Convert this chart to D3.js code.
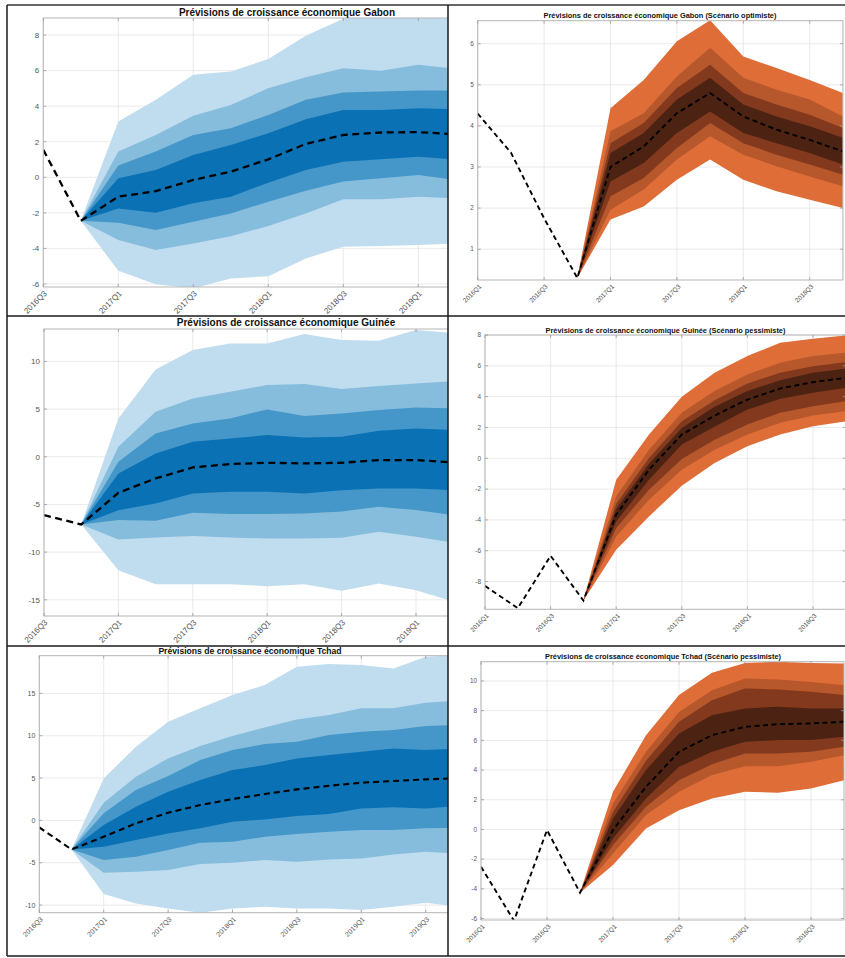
<!DOCTYPE html>
<html>
<head>
<meta charset="utf-8">
<script src="https://cdn.jsdelivr.net/npm/d3@7"></script>
<style>
  body { margin: 0; background: #fff; }
  svg { display: block; }
  text { font-family: "Liberation Sans", Arial, Helvetica, sans-serif; }
</style>
</head>
<body>
<svg id="fig" width="845" height="958"></svg>
<script>
// ---------- quarter labels ----------
const quartersFrom2016Q3 = ["2016Q3","2016Q4","2017Q1","2017Q2","2017Q3","2017Q4","2018Q1","2018Q2","2018Q3","2018Q4","2019Q1","2019Q2","2019Q3","2019Q4"];
const quartersFrom2016Q1 = ["2016Q1","2016Q2","2016Q3","2016Q4","2017Q1","2017Q2","2017Q3","2017Q4","2018Q1","2018Q2","2018Q3","2018Q4"];

// ---------- y tick values ----------
const gabonYTicks = [-6, -4, -2, 0, 2, 4, 6, 8];
const gabonOptYTicks = [1, 2, 3, 4, 5, 6];
const guineeYTicks = [-15, -10, -5, 0, 5, 10];
const guineePessYTicks = [-8, -6, -4, -2, 0, 2, 4, 6, 8];
const tchadYTicks = [-10, -5, 0, 5, 10, 15];
const tchadPessYTicks = [-6, -4, -2, 0, 2, 4, 6, 8, 10];

// ---------- Gabon (central scenario) ----------
const gabonHist     = [1.55, -2.45];
const gabonMedian   = [-2.45, -1.09, -0.78, -0.15, 0.32, 1.01, 1.88, 2.38, 2.52, 2.54, 2.42];
const gabonOuterHi  = [-2.45, 3.14, 4.36, 5.77, 5.95, 6.65, 7.96, 8.92, 9.2, 9.3, 9.2];
const gabonMidHi    = [-2.45, 1.45, 2.38, 3.46, 4.07, 5.01, 5.63, 6.14, 5.99, 6.33, 6.1];
const gabonInnerHi  = [-2.45, 0.66, 1.45, 2.38, 2.76, 3.51, 4.36, 4.77, 4.83, 4.88, 4.88];
const gabonCoreHi   = [-2.45, -0.06, 0.41, 1.26, 1.82, 2.48, 3.27, 3.79, 3.79, 3.89, 3.83];
const gabonCoreLo   = [-2.45, -1.75, -1.99, -1.46, -1.09, -0.3, 0.41, 0.88, 1.01, 1.16, 1.0];
const gabonInnerLo  = [-2.45, -2.55, -2.97, -2.5, -2.03, -1.37, -0.75, -0.24, -0.06, 0.13, -0.15];
const gabonMidLo    = [-2.45, -3.53, -4.09, -3.72, -3.31, -2.74, -2.03, -1.24, -1.24, -1.09, -1.18];
const gabonOuterLo  = [-2.45, -5.26, -6.01, -6.25, -5.69, -5.56, -4.56, -3.91, -3.87, -3.81, -3.72];

// ---------- Gabon (optimistic scenario) ----------
const gabonOptHist    = [4.3, 3.35, 1.75, 0.3];
const gabonOptMedian  = [0.3, 3.0, 3.5, 4.31, 4.8, 4.23, 3.91, 3.66, 3.38];
const gabonOptOuterHi = [0.3, 4.43, 5.12, 6.06, 6.57, 5.69, 5.41, 5.12, 4.8];
const gabonOptMidHi   = [0.3, 3.87, 4.31, 5.2, 5.9, 5.17, 4.88, 4.64, 4.23];
const gabonOptInnerHi = [0.3, 3.58, 4.07, 4.92, 5.49, 4.8, 4.52, 4.27, 3.95];
const gabonOptCoreHi  = [0.3, 3.34, 3.83, 4.64, 5.17, 4.52, 4.23, 3.99, 3.71];
const gabonOptCoreLo  = [0.3, 2.65, 3.1, 3.83, 4.35, 3.83, 3.58, 3.34, 3.06];
const gabonOptInnerLo = [0.3, 2.29, 2.73, 3.46, 4.07, 3.58, 3.3, 3.06, 2.81];
const gabonOptMidLo   = [0.3, 1.96, 2.45, 3.18, 3.75, 3.3, 3.02, 2.77, 2.53];
const gabonOptOuterLo = [0.3, 1.72, 2.04, 2.69, 3.18, 2.69, 2.41, 2.2, 2.0];

// ---------- Guinée (central scenario) ----------
const guineeHist     = [-6.12, -7.1];
const guineeMedian   = [-7.1, -3.78, -2.27, -1.12, -0.77, -0.63, -0.7, -0.63, -0.35, -0.35, -0.6];
const guineeOuterHi  = [-7.1, 4.02, 9.16, 11.19, 11.89, 11.89, 12.87, 12.24, 12.17, 13.29, 13.0];
const guineeMidHi    = [-7.1, 1.05, 4.72, 6.12, 6.82, 7.52, 7.62, 7.1, 7.41, 7.69, 7.94];
const guineeInnerHi  = [-7.1, -0.52, 2.45, 3.5, 4.02, 4.97, 4.27, 4.55, 4.9, 5.17, 5.07];
const guineeCoreHi   = [-7.1, -1.75, 0.35, 1.57, 1.92, 2.27, 2.03, 2.1, 2.73, 2.97, 2.8];
const guineeCoreLo   = [-7.1, -5.6, -4.9, -3.85, -3.67, -3.67, -3.85, -3.5, -3.32, -3.32, -3.5];
const guineeInnerLo  = [-7.1, -6.64, -6.71, -5.87, -6.01, -6.01, -5.94, -5.73, -5.24, -5.59, -6.12];
const guineeMidLo    = [-7.1, -8.67, -8.46, -8.32, -8.46, -8.57, -8.57, -8.5, -7.87, -8.39, -8.99];
const guineeOuterLo  = [-7.1, -11.89, -13.36, -13.36, -13.36, -13.57, -13.36, -14.06, -13.29, -13.99, -15.2];

// ---------- Guinée (pessimistic scenario) ----------
const guineePessHist    = [-8.28, -9.73, -6.33, -9.23];
const guineePessMedian  = [-9.23, -3.66, -0.74, 1.54, 2.77, 3.81, 4.53, 4.94, 5.22];
const guineePessOuterHi = [-9.23, -1.39, 1.54, 3.99, 5.55, 6.63, 7.5, 7.76, 7.97];
const guineePessMidHi   = [-9.23, -2.47, 0.56, 2.95, 4.36, 5.44, 6.2, 6.63, 6.85];
const guineePessInnerHi = [-9.23, -2.95, 0.02, 2.41, 3.77, 4.85, 5.55, 5.98, 6.24];
const guineePessCoreHi  = [-9.23, -3.29, -0.35, 1.97, 3.34, 4.36, 5.07, 5.55, 5.81];
const guineePessCoreLo  = [-9.23, -4.1, -1.39, 0.89, 2.04, 3.16, 3.86, 4.25, 4.57];
const guineePessInnerLo = [-9.23, -4.53, -2.04, -0.04, 1.21, 2.19, 2.95, 3.38, 3.71];
const guineePessMidLo   = [-9.23, -5.07, -2.69, -0.74, 0.56, 1.54, 2.3, 2.77, 3.06];
const guineePessOuterLo = [-9.23, -5.94, -3.77, -1.78, -0.3, 0.78, 1.54, 2.08, 2.4];

// ---------- Tchad (central scenario) ----------
const tchadHist     = [-0.83, -3.43];
const tchadMedian   = [-3.43, -1.93, -0.35, 0.91, 1.81, 2.52, 3.11, 3.66, 4.09, 4.45, 4.65, 4.84, 5.0];
const tchadOuterHi  = [-3.43, 4.96, 8.7, 11.65, 13.23, 14.8, 15.98, 18.15, 18.46, 18.35, 17.95, 19.33, 19.5];
const tchadMidHi    = [-3.43, 2.09, 5.16, 7.32, 8.78, 9.96, 10.98, 11.93, 12.44, 13.23, 13.23, 13.9, 14.13];
const tchadInnerHi  = [-3.43, 0.83, 3.58, 5.24, 7.13, 8.31, 9.02, 9.29, 10.08, 10.47, 10.67, 11.14, 11.26];
const tchadCoreHi   = [-3.43, -0.55, 1.61, 3.39, 4.76, 5.94, 6.54, 7.32, 7.72, 8.11, 8.5, 8.31, 8.5];
const tchadCoreLo   = [-3.43, -3.11, -2.32, -1.54, -0.94, -0.16, 0.12, 0.51, 0.75, 1.42, 1.54, 1.42, 1.69];
const tchadInnerLo  = [-3.43, -4.69, -4.29, -3.5, -2.64, -2.52, -1.93, -1.61, -1.34, -1.14, -1.14, -0.94, -0.87];
const tchadMidLo    = [-3.43, -6.18, -6.06, -5.87, -5.16, -5.0, -4.69, -4.88, -4.61, -4.49, -4.02, -3.7, -3.9];
const tchadOuterLo  = [-3.43, -8.7, -9.8, -10.39, -10.9, -10.39, -10.2, -10.39, -10.39, -10.59, -10.2, -9.72, -10.2];

// ---------- Tchad (pessimistic scenario) ----------
const tchadPessHist    = [-2.51, -6.15, -0.04, -4.26];
const tchadPessMedian  = [-4.26, -0.04, 2.87, 5.23, 6.35, 6.91, 7.09, 7.14, 7.25];
const tchadPessOuterHi = [-4.26, 2.54, 6.35, 9.05, 10.55, 11.22, 11.3, 11.22, 11.18];
const tchadPessMidHi   = [-4.26, 1.75, 5.23, 7.92, 9.38, 10.17, 10.1, 9.94, 9.72];
const tchadPessInnerHi = [-4.26, 1.19, 4.62, 7.25, 8.71, 9.49, 9.43, 9.27, 9.05];
const tchadPessCoreHi  = [-4.26, 0.74, 4.0, 6.46, 7.7, 8.15, 8.26, 8.15, 8.15];
const tchadPessCoreLo  = [-4.26, -0.61, 2.09, 4.22, 5.23, 5.9, 6.02, 6.02, 6.24];
const tchadPessInnerLo = [-4.26, -1.05, 1.53, 3.32, 4.4, 5.12, 5.12, 5.23, 5.57];
const tchadPessMidLo   = [-4.26, -1.62, 0.97, 2.54, 3.66, 4.26, 4.26, 4.56, 5.0];
const tchadPessOuterLo = [-4.26, -2.4, 0.07, 1.3, 2.09, 2.54, 2.47, 2.76, 3.32];

// ---------- colour ramps (outer band first) ----------
const blueShades   = ["#c0dcef", "#86bddd", "#4597c9", "#0a72b4"];
const orangeShades = ["#df6d38", "#b7572c", "#83391d", "#4c2213"];

// ---------- panel layout ----------
const panels = [
  { cell: [7, 5, 448, 316], left: 43.3, step: 37.5, top: 18, bottom: 287, yDomain: [-6.17, 8.96],
    quarters: quartersFrom2016Q3.slice(0, 12), yTicks: gabonYTicks,
    hist: gabonHist, median: gabonMedian,
    bands: [[gabonOuterLo, gabonOuterHi], [gabonMidLo, gabonMidHi], [gabonInnerLo, gabonInnerHi], [gabonCoreLo, gabonCoreHi]],
    shades: blueShades, title: "Prévisions de croissance économique Gabon",
    titleX: 287, titleY: 16, titleSize: 10, tickSize: 8, lineWidth: 2.3, dash: "7,4.5" },
  { cell: [448, 5, 845, 316], left: 477.7, step: 33.2, top: 20.7, bottom: 280, yDomain: [0.25, 6.56],
    quarters: quartersFrom2016Q1, yTicks: gabonOptYTicks,
    hist: gabonOptHist, median: gabonOptMedian,
    bands: [[gabonOptOuterLo, gabonOptOuterHi], [gabonOptMidLo, gabonOptMidHi], [gabonOptInnerLo, gabonOptInnerHi], [gabonOptCoreLo, gabonOptCoreHi]],
    shades: orangeShades, title: "Prévisions de croissance économique Gabon (Scénario optimiste)",
    titleX: 660, titleY: 17.5, titleSize: 7.4, tickSize: 6.4, lineWidth: 1.9, dash: "5,3.5" },
  { cell: [7, 316, 448, 646], left: 44, step: 37.2, top: 329, bottom: 616, yDomain: [-16.7, 13.4],
    quarters: quartersFrom2016Q3.slice(0, 12), yTicks: guineeYTicks,
    hist: guineeHist, median: guineeMedian,
    bands: [[guineeOuterLo, guineeOuterHi], [guineeMidLo, guineeMidHi], [guineeInnerLo, guineeInnerHi], [guineeCoreLo, guineeCoreHi]],
    shades: blueShades, title: "Prévisions de croissance économique Guinée",
    titleX: 286, titleY: 326, titleSize: 10, tickSize: 8, lineWidth: 2.3, dash: "7,4.5" },
  { cell: [448, 316, 845, 646], left: 485, step: 32.8, top: 335, bottom: 609.3, yDomain: [-9.8, 8.0],
    quarters: quartersFrom2016Q1, yTicks: guineePessYTicks,
    hist: guineePessHist, median: guineePessMedian,
    bands: [[guineePessOuterLo, guineePessOuterHi], [guineePessMidLo, guineePessMidHi], [guineePessInnerLo, guineePessInnerHi], [guineePessCoreLo, guineePessCoreHi]],
    shades: orangeShades, title: "Prévisions de croissance économique Guinée (Scénario pessimiste)",
    titleX: 665.5, titleY: 333, titleSize: 7.4, tickSize: 6.4, lineWidth: 1.9, dash: "5,3.5" },
  { cell: [7, 646, 448, 956], left: 39.3, step: 32.2, top: 655.7, bottom: 912.7, yDomain: [-10.9, 19.45],
    quarters: quartersFrom2016Q3, yTicks: tchadYTicks,
    hist: tchadHist, median: tchadMedian,
    bands: [[tchadOuterLo, tchadOuterHi], [tchadMidLo, tchadMidHi], [tchadInnerLo, tchadInnerHi], [tchadCoreLo, tchadCoreHi]],
    shades: blueShades, title: "Prévisions de croissance économique Tchad",
    titleX: 250, titleY: 653.5, titleSize: 8.6, tickSize: 7, lineWidth: 2.1, dash: "6,4" },
  { cell: [448, 646, 845, 956], left: 481, step: 33, top: 661.7, bottom: 920, yDomain: [-6.1, 11.3],
    quarters: quartersFrom2016Q1, yTicks: tchadPessYTicks,
    hist: tchadPessHist, median: tchadPessMedian,
    bands: [[tchadPessOuterLo, tchadPessOuterHi], [tchadPessMidLo, tchadPessMidHi], [tchadPessInnerLo, tchadPessInnerHi], [tchadPessCoreLo, tchadPessCoreHi]],
    shades: orangeShades, title: "Prévisions de croissance économique Tchad (Scénario pessimiste)",
    titleX: 663, titleY: 658.5, titleSize: 7.4, tickSize: 6.4, lineWidth: 1.9, dash: "5,3.5" }
];

const svg = d3.select("#fig");
const defs = svg.append("defs");

panels.forEach((p, i) => {
  const [cx0, cy0, cx1, cy1] = p.cell;
  const n = p.quarters.length;
  const right = p.left + (n - 1) * p.step;

  const x = d3.scaleLinear().domain([0, n - 1]).range([p.left, right]);
  const y = d3.scaleLinear().domain(p.yDomain).range([p.bottom, p.top]);

  // clip for the whole cell and for the axes area
  defs.append("clipPath").attr("id", "cell" + i)
    .append("rect").attr("x", cx0).attr("y", cy0).attr("width", cx1 - cx0).attr("height", cy1 - cy0);
  defs.append("clipPath").attr("id", "axes" + i)
    .append("rect").attr("x", p.left).attr("y", p.top).attr("width", right - p.left).attr("height", p.bottom - p.top);

  const g = svg.append("g").attr("clip-path", `url(#cell${i})`);

  // grid
  const tickIdx = d3.range(0, n, 2);
  const grid = g.append("g").attr("stroke", "#e4e4e4").attr("stroke-width", 0.8);
  grid.selectAll("line.gx").data(tickIdx).join("line")
    .attr("x1", d => x(d)).attr("x2", d => x(d)).attr("y1", p.top).attr("y2", p.bottom);
  grid.selectAll("line.gy").data(p.yTicks).join("line")
    .attr("x1", p.left).attr("x2", right).attr("y1", d => y(d)).attr("y2", d => y(d));

  // fan bands, outer to inner
  const start = p.hist.length - 1;
  const plot = g.append("g").attr("clip-path", `url(#axes${i})`);
  p.bands.forEach(([lo, hi], b) => {
    const area = d3.area()
      .x((d, k) => x(start + k))
      .y0((d, k) => y(lo[k]))
      .y1((d, k) => y(hi[k]));
    plot.append("path").datum(lo).attr("d", area).attr("fill", p.shades[b]);
  });

  // history + central projection as one dashed path
  const path = p.hist.slice(0, -1).concat(p.median);
  plot.append("path").datum(path)
    .attr("d", d3.line().x((d, k) => x(k)).y(d => y(d)))
    .attr("fill", "none").attr("stroke", "#000")
    .attr("stroke-width", p.lineWidth).attr("stroke-dasharray", p.dash);

  // axes box and inward ticks
  g.append("rect").attr("x", p.left).attr("y", p.top)
    .attr("width", right - p.left).attr("height", p.bottom - p.top)
    .attr("fill", "none").attr("stroke", "#b5b5b5").attr("stroke-width", 1);
  const tk = g.append("g").attr("stroke", "#9a9a9a").attr("stroke-width", 0.8);
  tickIdx.forEach(d => {
    tk.append("line").attr("x1", x(d)).attr("x2", x(d)).attr("y1", p.bottom).attr("y2", p.bottom - 3);
    tk.append("line").attr("x1", x(d)).attr("x2", x(d)).attr("y1", p.top).attr("y2", p.top + 3);
  });
  p.yTicks.forEach(d => {
    tk.append("line").attr("x1", p.left).attr("x2", p.left + 3).attr("y1", y(d)).attr("y2", y(d));
    tk.append("line").attr("x1", right).attr("x2", right - 3).attr("y1", y(d)).attr("y2", y(d));
  });

  // y tick labels
  g.append("g").selectAll("text").data(p.yTicks).join("text")
    .attr("x", p.left - 4).attr("y", d => y(d)).attr("dy", "0.35em")
    .attr("text-anchor", "end").attr("font-size", p.tickSize).attr("fill", "#555")
    .text(d => d);

  // x tick labels, rotated
  g.append("g").selectAll("text").data(tickIdx).join("text")
    .attr("transform", d => `translate(${x(d) + 4},${p.bottom + 7}) rotate(-45)`)
    .attr("text-anchor", "end").attr("font-size", p.tickSize).attr("fill", "#555")
    .text(d => p.quarters[d]);

  // title
  g.append("text").attr("x", p.titleX).attr("y", p.titleY)
    .attr("text-anchor", "middle").attr("font-weight", "bold")
    .attr("font-size", p.titleSize).attr("fill", "#111")
    .text(p.title);
});

// cell frame
const frame = svg.append("g").attr("stroke", "#1a1a1a").attr("stroke-width", 1.5).attr("fill", "none");
frame.append("line").attr("x1", 7).attr("x2", 845).attr("y1", 5).attr("y2", 5).attr("stroke", "#666").attr("stroke-width", 2);
frame.append("line").attr("x1", 7).attr("x2", 7).attr("y1", 5).attr("y2", 956);
frame.append("line").attr("x1", 448).attr("x2", 448).attr("y1", 5).attr("y2", 956);
frame.append("line").attr("x1", 7).attr("x2", 845).attr("y1", 316).attr("y2", 316);
frame.append("line").attr("x1", 7).attr("x2", 845).attr("y1", 646).attr("y2", 646);
frame.append("line").attr("x1", 7).attr("x2", 845).attr("y1", 956).attr("y2", 956);
</script>
</body>
</html>
